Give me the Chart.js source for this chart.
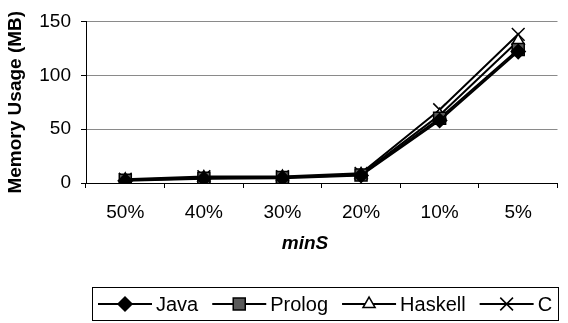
<!DOCTYPE html>
<html>
<head>
<meta charset="utf-8">
<style>
  html, body { margin: 0; padding: 0; background: #fff; }
  #wrap { width: 568px; height: 323px; position: relative; }
</style>
<script src="https://cdn.jsdelivr.net/npm/chart.js@4/dist/chart.umd.min.js"></script>
</head>
<body>
<div id="wrap"><canvas id="c" width="568" height="323"></canvas></div>
<script>
// Minimum support thresholds on the x axis
const categories = ['50%', '40%', '30%', '20%', '10%', '5%'];
// Memory usage per implementation, in MB
const javaMem    = [2,   4,   4.5, 7,   58, 122];
const prologMem  = [2.5, 4.5, 5,   7.5, 60, 124];
const haskellMem = [3,   5,   5.5, 8,   63, 132];
const cMem       = [3.5, 6,   6,   9,   68, 138];
const yTicks = [0, 50, 100, 150];
const xTitle = 'minS';
const yTitle = 'Memory Usage (MB)';

const FONT = "'Liberation Sans', Arial, sans-serif";

const seriesStyle = [
  { label: 'Java',    data: javaMem,    pointStyle: 'rectRot',  radius: 7,   bg: '#000', border: '#000' },
  { label: 'Prolog',  data: prologMem,  pointStyle: 'rect',     radius: 8.5, bg: '#5a5a5a', border: '#000' },
  { label: 'Haskell', data: haskellMem, pointStyle: 'triangle', radius: 7,   bg: '#fff', border: '#000' },
  { label: 'C',       data: cMem,       pointStyle: 'crossRot', radius: 9,   bg: '#000', border: '#000' }
];

function marker(ctx, ds, x, y) {
  ctx.save();
  ctx.fillStyle = ds.pointBackgroundColor;
  ctx.strokeStyle = ds.pointBorderColor;
  ctx.lineWidth = ds.pointBorderWidth;
  Chart.helpers.drawPoint(ctx, {
    pointStyle: ds.pointStyle,
    radius: ds.pointRadius,
    rotation: 0,
    borderWidth: ds.pointBorderWidth
  }, x, y);
  ctx.restore();
}

// Centered bold-italic title under the category labels
const xAxisTitle = {
  id: 'xAxisTitle',
  afterDraw(chart) {
    const ctx = chart.ctx;
    ctx.save();
    ctx.font = 'italic bold 19px ' + FONT;
    ctx.fillStyle = '#000';
    ctx.textAlign = 'center';
    ctx.textBaseline = 'middle';
    ctx.fillText(xTitle, 305, 244);
    ctx.restore();
  }
};

// Boxed legend with a line segment through each marker
const boxedLegend = {
  id: 'boxedLegend',
  afterDraw(chart) {
    const ctx = chart.ctx;
    const box = { x: 92.5, y: 287.5, w: 466, h: 33 };
    ctx.save();
    ctx.strokeStyle = '#000';
    ctx.lineWidth = 1;
    ctx.strokeRect(box.x, box.y, box.w, box.h);
    ctx.font = '20px ' + FONT;
    ctx.textBaseline = 'middle';
    const cy = box.y + box.h / 2;
    let x = 98;
    const lineLen = 54;
    chart.data.datasets.forEach((ds) => {
      ctx.beginPath();
      ctx.moveTo(x, cy);
      ctx.lineTo(x + lineLen, cy);
      ctx.strokeStyle = '#000';
      ctx.lineWidth = 2;
      ctx.stroke();
      marker(ctx, ds, x + lineLen / 2, cy);
      ctx.fillStyle = '#000';
      ctx.fillText(ds.label, x + lineLen + 4, cy + 1);
      x += lineLen + 4 + ctx.measureText(ds.label).width + 14;
    });
    ctx.restore();
  }
};

new Chart(document.getElementById('c'), {
  type: 'line',
  data: {
    labels: categories,
    datasets: seriesStyle.map(s => ({
      label: s.label,
      data: s.data,
      borderColor: '#000',
      borderWidth: 2,
      pointStyle: s.pointStyle,
      pointRadius: s.radius,
      pointBackgroundColor: s.bg,
      pointBorderColor: s.border,
      pointBorderWidth: 1.5,
      tension: 0
    }))
  },
  options: {
    responsive: false,
    animation: false,
    devicePixelRatio: 1,
    layout: { padding: { left: 0, right: 0, top: 15, bottom: 73 } },
    plugins: {
      legend: { display: false },
      tooltip: { enabled: false }
    },
    scales: {
      x: {
        offset: true,
        grid: { offset: true, drawOnChartArea: false, drawTicks: true, tickLength: 5, color: '#000' },
        border: { color: '#000', width: 1 },
        ticks: { color: '#000', font: { family: FONT, size: 19 }, padding: 13, maxRotation: 0 },
        afterFit(scale) { scale.height = 67; }
      },
      y: {
        min: 0,
        max: 150,
        afterBuildTicks(scale) { scale.ticks = yTicks.map(v => ({ value: v })); },
        grid: { color: '#8a8a8a', drawTicks: true, tickLength: 5, tickColor: '#000' },
        border: { color: '#000', width: 1 },
        ticks: { color: '#000', font: { family: FONT, size: 19 }, padding: 10 },
        title: { display: true, text: yTitle, color: '#000', font: { family: FONT, size: 19, weight: 'bold' }, padding: { top: 4, bottom: 0 } },
        afterFit(scale) { scale.width = 86; }
      }
    }
  },
  plugins: [xAxisTitle, boxedLegend]
});
</script>
</body>
</html>
